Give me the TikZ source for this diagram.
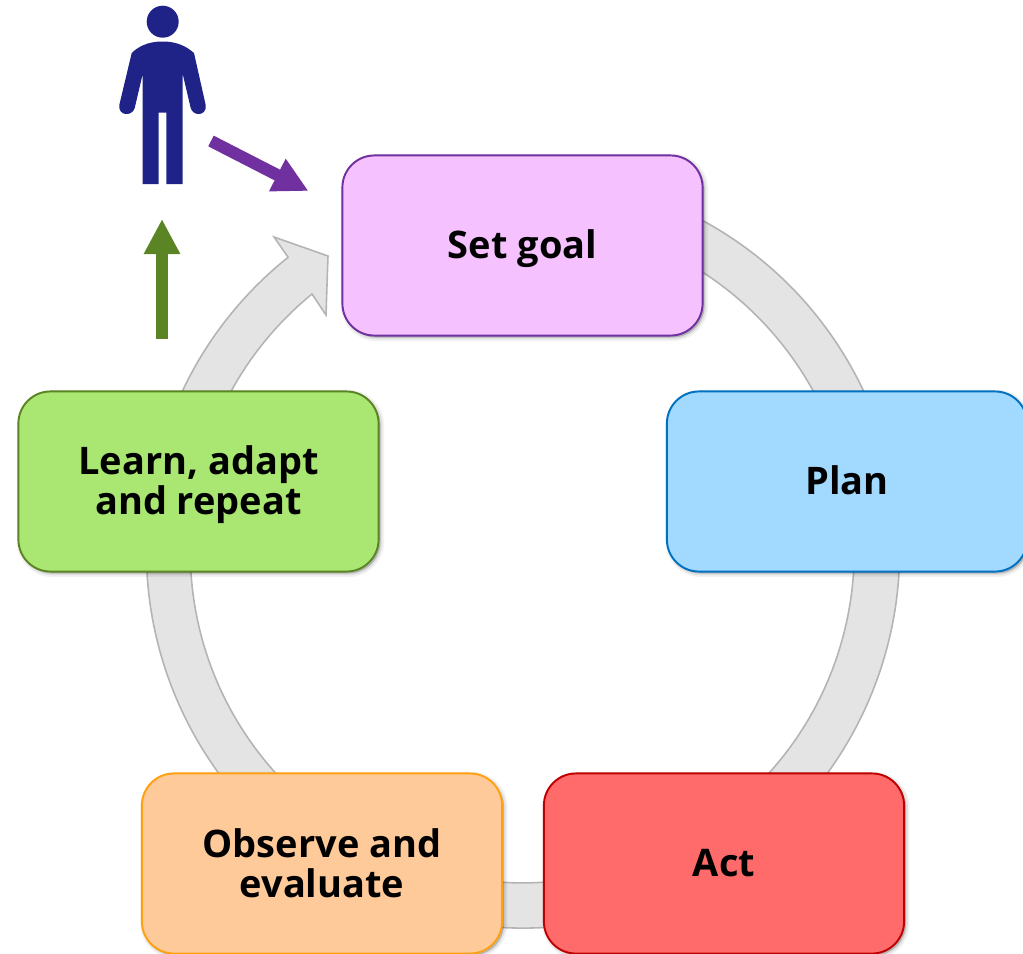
\documentclass[tikz,border=0pt]{standalone}
\usepackage{fontspec}
\setmainfont{Open Sans}
\usetikzlibrary{arrows.meta,shadows}
\definecolor{mypurple}{RGB}{112,48,160}
\definecolor{mygreen}{RGB}{91,133,36}
\definecolor{mynavy}{RGB}{31,35,136}
\definecolor{myring}{RGB}{228,228,228}
\definecolor{myringline}{RGB}{180,180,180}
\tikzset{
    softshadow/.style={
        general shadow={shadow xshift=0.02cm, shadow yshift=-0.02cm, fill=black, opacity=0.05, draw=black, line width=2pt},
        general shadow={shadow xshift=0.02cm, shadow yshift=-0.02cm, fill=black, opacity=0.07, draw=black, line width=1pt},
        general shadow={shadow xshift=0.02cm, shadow yshift=-0.02cm, fill=black, opacity=0.09}
    },
    stage/.style={
        rectangle, rounded corners=0.32cm, softshadow, line width=0.55pt,
        minimum width=3.6cm, minimum height=1.8cm, align=center,
        font=\fontsize{10.8}{11.4}\selectfont\bfseries, text=black
    },
    oneline/.style={text height=10pt, text depth=2.6pt},
    ring/.style={fill=myring, draw=myringline, line width=0.45pt, line join=miter},
    bigarrow/.style={line width=0.12cm, -{Triangle[width=0.34cm, length=0.35cm]}}
}

\begin{document}
\begin{tikzpicture}[x=0.01cm, y=-0.01cm]
    \useasboundingbox (0, 0) rectangle (1023, 954);

    % Ring
    \coordinate (hub) at (523, 551.5);
    \draw[ring] (hub) ++(-70:376.5) arc[start angle=-70, end angle=231.4, radius=376.5]
        -- (274, 237) -- (328, 256) -- (326, 315) -- (312, 294)
        arc[start angle=230.7, end angle=-70, radius=332] -- cycle;

    % Stages
    \node[stage, oneline, draw=mypurple, fill={rgb,255:red,245;green,194;blue,255}] (setgoal) at (522.5, 245.5) {Set goal};
    \node[stage, oneline, draw={rgb,255:red,0;green,112;blue,192}, fill={rgb,255:red,162;green,217;blue,255}] (plan) at (847, 481.5) {Plan};
    \node[stage, oneline, draw={rgb,255:red,192;green,0;blue,0}, fill={rgb,255:red,255;green,107;blue,107}] (act) at (724, 863.5) {Act};
    \node[stage, draw={rgb,255:red,255;green,160;blue,16}, fill={rgb,255:red,255;green,202;blue,153}] (observe) at (322, 863.5) {Observe and\\evaluate};
    \node[stage, draw=mygreen, fill={rgb,255:red,169;green,230;blue,114}] (learn) at (198.5, 481.5) {\rule{0pt}{10pt}Learn, adapt\\and repeat};

    % Person
    \fill[mynavy] (162.7, 21.7) circle[radius=16];
    \fill[mynavy] (162.7, 41.5) .. controls (147, 41.5) and (138, 47) .. (131.7, 53)
        -- (119.3, 105)
        .. controls (118, 116) and (132, 117) .. (134.7, 108)
        -- (142.7, 74) -- (142.7, 184) -- (158.7, 184) -- (158.7, 112.7)
        -- (166.3, 112.7) -- (166.3, 184) -- (182.7, 184) -- (182.7, 74)
        -- (190.7, 108)
        .. controls (193.5, 117) and (207, 116) .. (205.7, 105)
        -- (194, 53) .. controls (187, 47) and (178, 41.5) .. (162.7, 41.5) -- cycle;

    % Arrows
    \coordinate (greenstart) at (162, 339);
    \coordinate (greentip) at (162, 219);
    \coordinate (purplestart) at (211, 141);
    \coordinate (purpletip) at (308.5, 191);
    \draw[bigarrow, draw=mygreen, fill=mygreen] (greenstart) -- (greentip);
    \draw[bigarrow, draw=mypurple, fill=mypurple] (purplestart) -- (purpletip);
\end{tikzpicture}
\end{document}
